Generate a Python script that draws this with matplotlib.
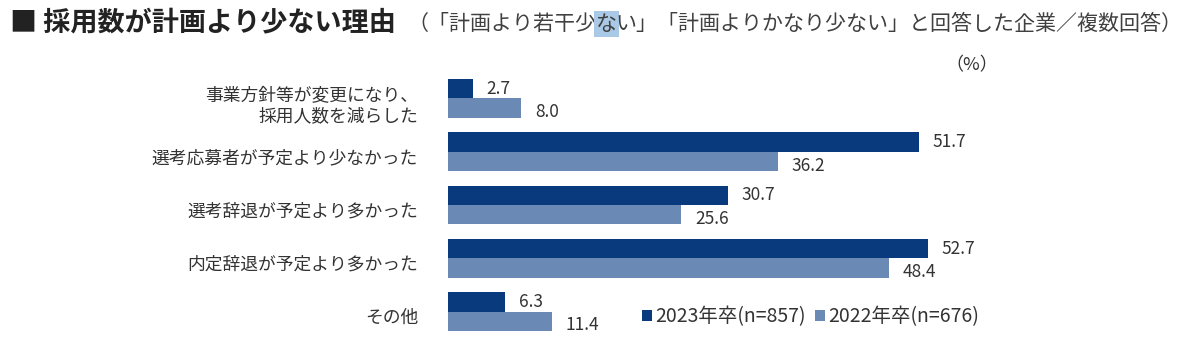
import matplotlib
matplotlib.use('Agg')
from matplotlib import pyplot as plt
from matplotlib import transforms
import numpy as np

plt.rcParams['font.family'] = ['Noto Sans CJK JP', 'DejaVu Sans']

categories = ['事業方針等が変更になり、\n採用人数を減らした',
              '選考応募者が予定より少なかった',
              '選考辞退が予定より多かった',
              '内定辞退が予定より多かった',
              'その他']
y2023 = [2.7, 51.7, 30.7, 52.7, 6.3]
y2022 = [8.0, 36.2, 25.6, 48.4, 11.4]
series_names = ['2023年卒(n=857)', '2022年卒(n=676)']

dark = '#093a7e'
light = '#6a8ab5'
txt = '#333333'

W, H = 1194, 357
fig = plt.figure(figsize=(W / 100, H / 100), dpi=100)
fig.patch.set_facecolor('white')

# axes placed in pixels
left, right = 448, 448 + 80 * 9.108
top, bottom = 66.5, 343.5
ax = fig.add_axes([left / W, 1 - bottom / H, (right - left) / W, (bottom - top) / H])

pos = np.arange(len(categories))
bh = 0.366
b1 = ax.barh(pos - bh / 2, y2023, height=bh, color=dark, label=series_names[0])
b2 = ax.barh(pos + bh / 2, y2022, height=bh, color=light, label=series_names[1])

for bars, vals, dy in ((b1, y2023, 0), (b2, y2022, -3)):
    for b, v in zip(bars, vals):
        ax.annotate(f'{v:.1f}', (v, b.get_y() + b.get_height() / 2),
                    xytext=(10, dy), textcoords='offset points',
                    ha='left', va='center', fontsize=12.5, color=txt)

ax.set_xlim(0, 80)
ax.set_ylim(len(categories) - 0.4, -0.6)
ax.set_yticks(pos)
ax.set_yticklabels(categories, fontsize=12.8, color=txt, linespacing=1.2)
ax.tick_params(axis='y', length=0, pad=21.5)
shift = transforms.ScaledTranslation(0, -3 / 72, fig.dpi_scale_trans)
for lab in ax.get_yticklabels():
    lab.set_transform(lab.get_transform() + shift)
ax.set_xticks([])
for s in ax.spines.values():
    s.set_visible(False)

leg = ax.legend(loc='center left', bbox_to_anchor=(642 / W, 1 - 317 / H),
                bbox_transform=fig.transFigure, ncol=2, frameon=False,
                handlelength=0.52, handleheight=0.52, handletextpad=0.15,
                columnspacing=0.5, fontsize=14, borderpad=0, borderaxespad=0)
for t in leg.get_texts():
    t.set_color(txt)

fig.text(10 / W, 1 - 22 / H, '■ 採用数が計画より少ない理由', fontsize=19.5,
         fontweight='bold', color='#222222', va='center', ha='left')

# subtitle in three pieces so the selected "な" can carry its highlight
sub_parts = ['（「計画より若干少', 'な', 'い」「計画よりかなり少ない」と回答した企業／複数回答）']
renderer = fig.canvas.get_renderer()
x = 407 / W
for i, part in enumerate(sub_parts):
    t = fig.text(x, 1 - 24 / H, part, fontsize=15.1, color='#404040',
                 va='center', ha='left')
    if i == 1:
        t.set_bbox(dict(facecolor='#a9c9e6', edgecolor='none', pad=1.2))
    bb = t.get_window_extent(renderer)
    x = bb.x1 / W if i != 1 else (bb.x1 - 1.2 * 100 / 72) / W

fig.text(972 / W, 1 - 65 / H, '（%）', fontsize=13, color=txt,
         va='center', ha='center')

fig.savefig('out.png', dpi=100, facecolor='white')
